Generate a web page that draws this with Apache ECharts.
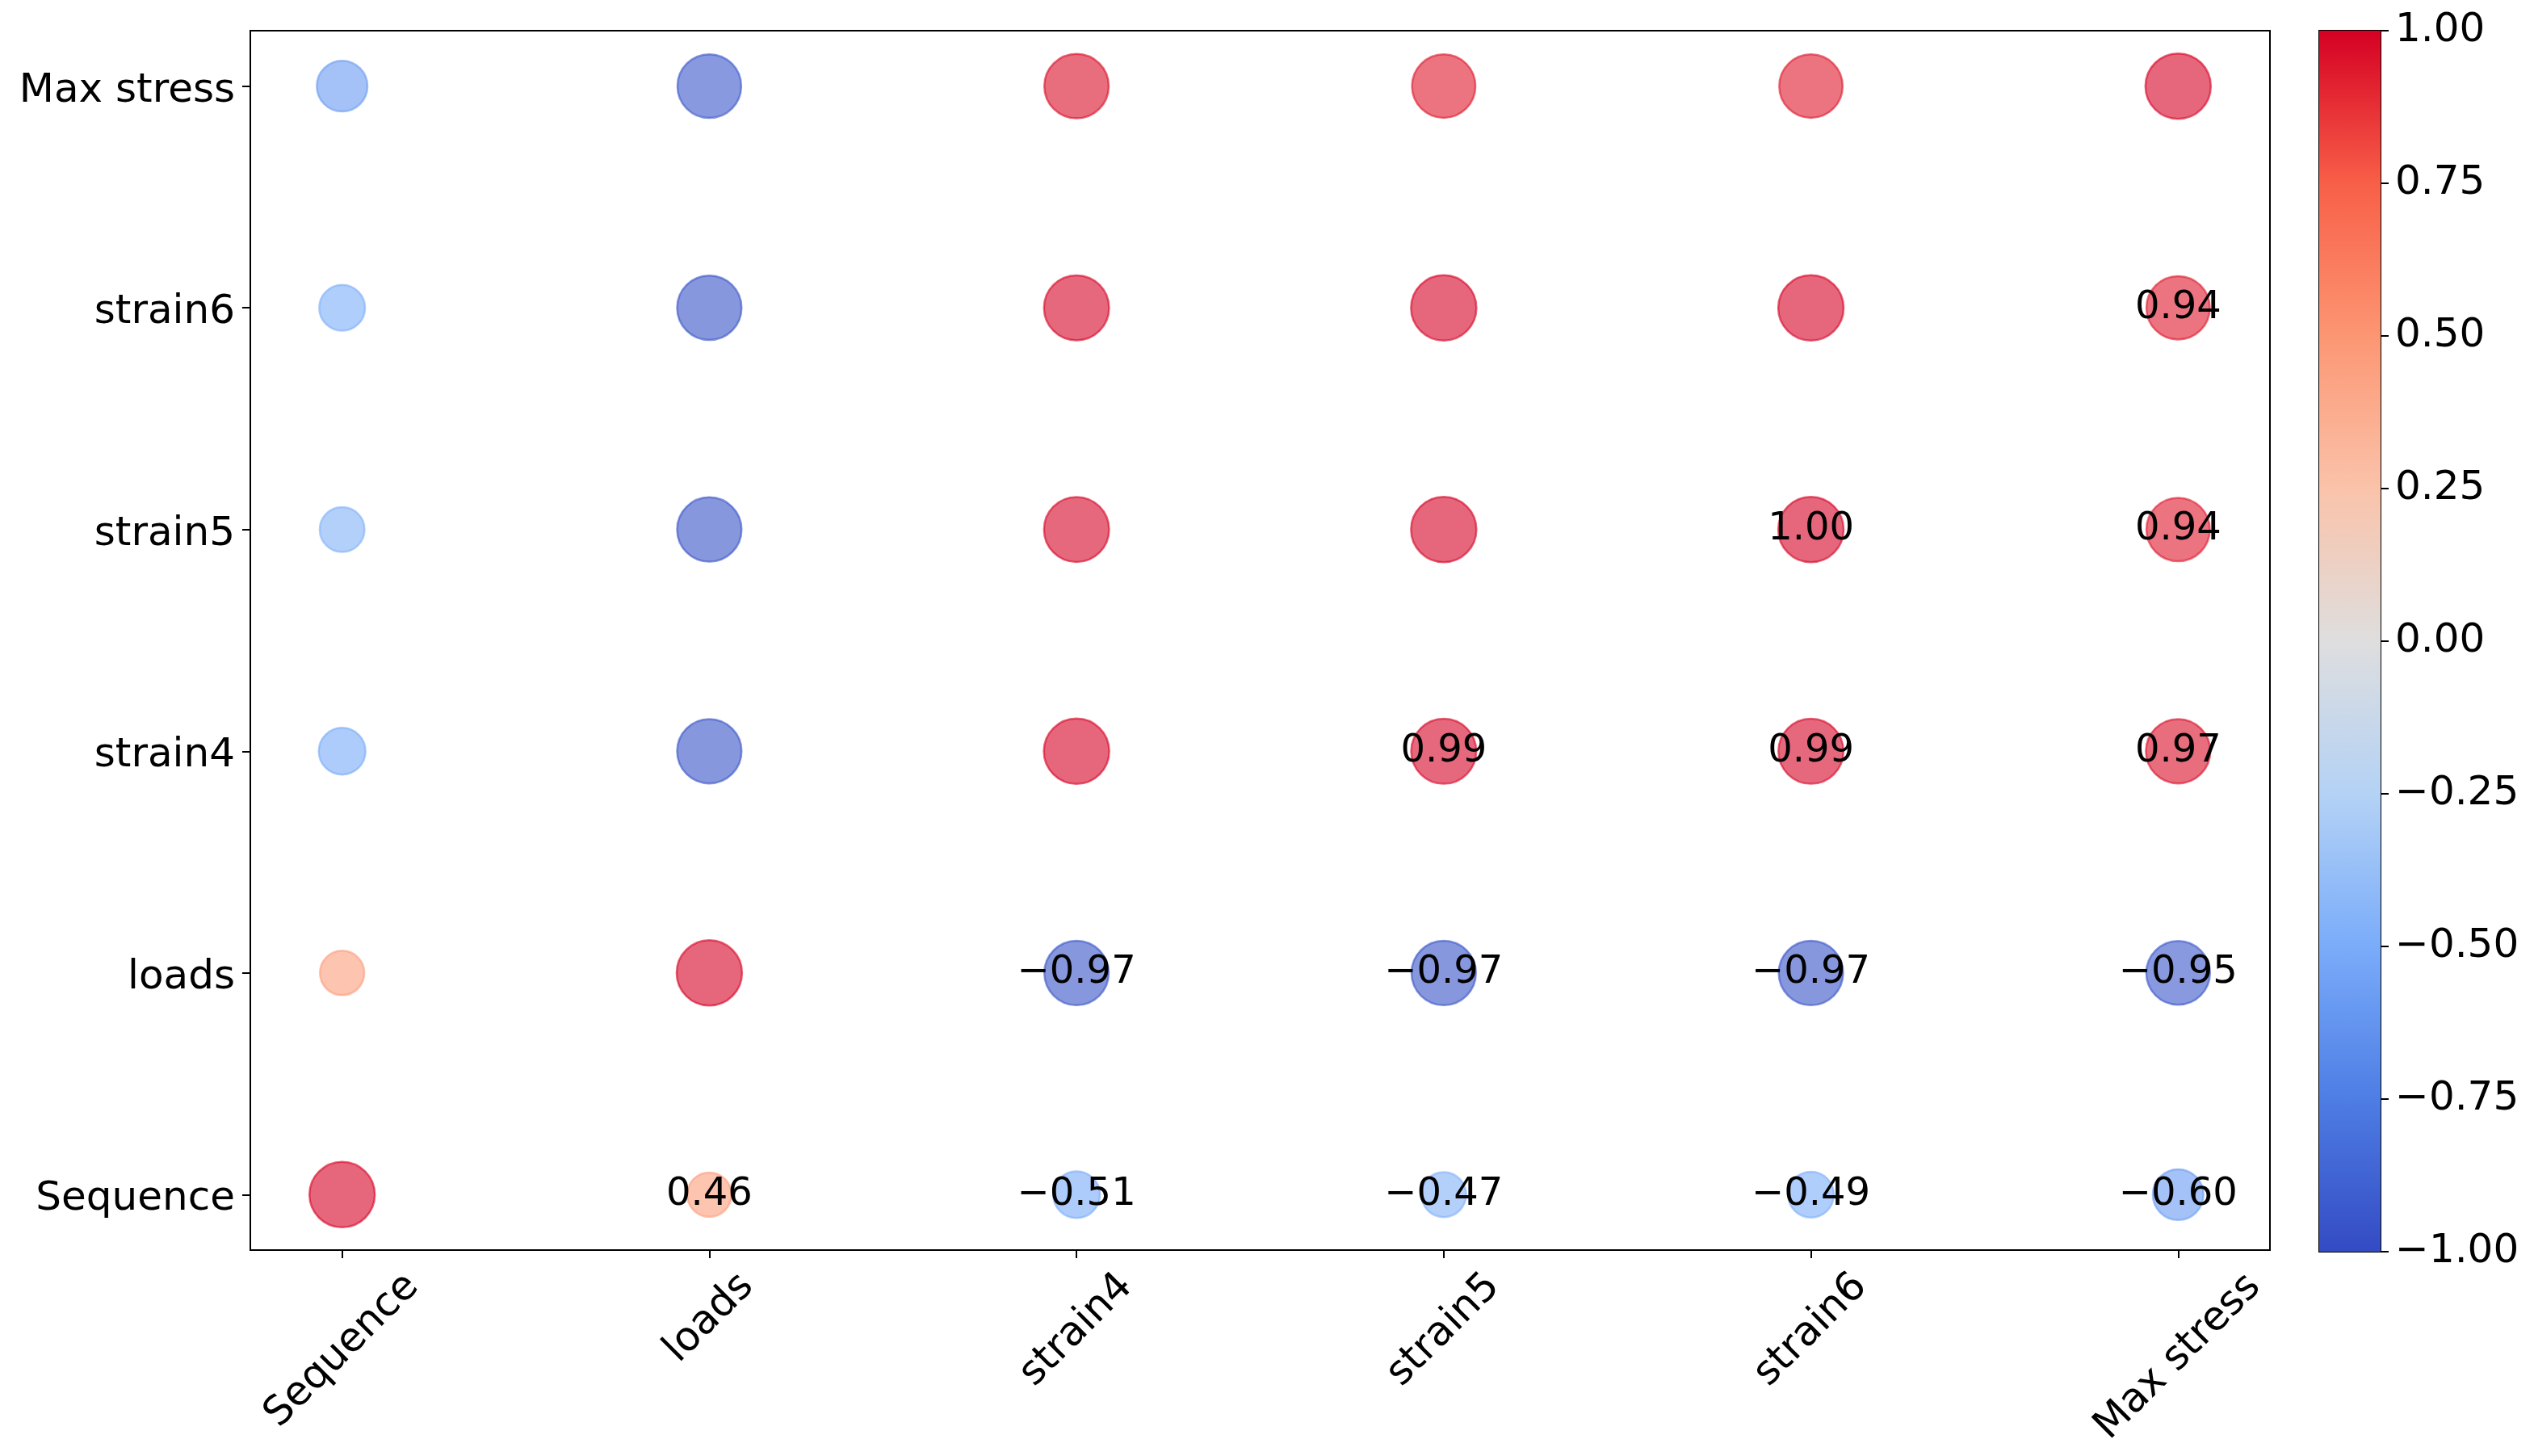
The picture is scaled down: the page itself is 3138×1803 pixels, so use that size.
<!DOCTYPE html>
<html><head><meta charset="utf-8">
<script src="https://cdn.jsdelivr.net/npm/echarts@6/dist/echarts.min.js"></script>
<style>html,body{margin:0;padding:0;background:#fff}#c{width:3138px;height:1803px}</style>
</head><body><div id="c"></div>
<script>
// ---------- data ----------
const variables = ['Sequence', 'loads', 'strain4', 'strain5', 'strain6', 'Max stress'];
const corrSequence  = [1.00, 0.46, -0.51, -0.47, -0.49, -0.60];
const corrLoads     = [0.46, 1.00, -0.97, -0.97, -0.97, -0.95];
const corrStrain4   = [-0.51, -0.97, 1.00, 0.99, 0.99, 0.97];
const corrStrain5   = [-0.47, -0.97, 0.99, 1.00, 1.00, 0.94];
const corrStrain6   = [-0.49, -0.97, 0.99, 1.00, 1.00, 0.94];
const corrMaxStress = [-0.60, -0.95, 0.97, 0.94, 0.94, 1.00];
const colorbarTicks = [-1, -0.75, -0.5, -0.25, 0, 0.25, 0.5, 0.75, 1];

// ---------- style ----------
const FONT = 'DejaVu Sans';
const palettePos = [-1, -0.75, -0.5, -0.25, 0, 0.25, 0.5, 0.75, 1];
const paletteRGB = [[52,75,195],[78,125,228],[122,172,250],[180,210,245],[222,222,222],[250,195,170],[252,150,115],[248,95,72],[213,0,35]];
function cmap(v, alpha){
  v = Math.max(-1, Math.min(1, v));
  let rgb = paletteRGB[paletteRGB.length-1];
  for (let i = 0; i < palettePos.length - 1; i++){
    if (v <= palettePos[i+1]){
      const t = (v - palettePos[i]) / (palettePos[i+1] - palettePos[i]);
      const a = paletteRGB[i], b = paletteRGB[i+1];
      rgb = a.map((c, k) => Math.round(c + (b[k]-c)*t));
      break;
    }
  }
  return 'rgba(' + rgb.join(',') + ',' + alpha + ')';
}
const fmt = v => v.toFixed(2).replace('-', '\u2212');

const rows = [corrSequence, corrLoads, corrStrain4, corrStrain5, corrStrain6, corrMaxStress];
const points = [];
rows.forEach((row, yi) => {
  row.forEach((v, xi) => {
    const col = cmap(v, 0.6);
    points.push({
      value: [xi, yi, v],
      itemStyle: { color: col, borderColor: col, opacity: 1 },
      label: { show: xi > yi }
    });
  });
});

// x label padding so rotated labels are centred under their ticks (matplotlib style)
const cv = document.createElement('canvas').getContext('2d');
cv.font = '50px "' + FONT + '"';
const rich = {};
variables.forEach((name, i) => {
  const w = cv.measureText(name).width;
  const p = Math.round(0.5 * (w + 50));
  rich['x' + i] = { fontSize: 50, fontFamily: FONT, color: '#000', padding: [p, p, 0, 0] };
});

const gradStops = palettePos.map((p, i) => ({ offset: (1 - p) / 2, color: 'rgb(' + paletteRGB[i].join(',') + ')' })).reverse();

const tickVals = variables.map((_, i) => i);
const chart = echarts.init(document.getElementById('c'), null, { renderer: 'canvas' });
chart.setOption({
  backgroundColor: '#fff',
  animation: false,
  textStyle: { fontFamily: FONT },
  grid: [
    { left: 310, top: 38, width: 2501, height: 1510, show: true, borderColor: '#000', borderWidth: 2, backgroundColor: 'transparent', outerBoundsMode: 'none' },
    { left: 2872, top: 38, width: 76, height: 1512, show: true, borderColor: '#000', borderWidth: 2, backgroundColor: 'transparent', outerBoundsMode: 'none' }
  ],
  xAxis: [
    { type: 'value', gridIndex: 0, min: -0.25, max: 5.25,
      axisLine: { show: true, onZero: false, lineStyle: { color: '#000', width: 2 } },
      axisTick: { show: true, customValues: tickVals, length: 10, lineStyle: { color: '#000', width: 2 } },
      axisLabel: { customValues: tickVals, rotate: 45, align: 'center', verticalAlign: 'middle', margin: 20,
        formatter: v => '{x' + v + '|' + variables[v] + '}', rich: rich },
      splitLine: { show: false } },
    { type: 'category', gridIndex: 1, data: ['cb'], show: false, boundaryGap: true }
  ],
  yAxis: [
    { type: 'value', gridIndex: 0, min: -0.25, max: 5.25,
      axisLine: { show: true, onZero: false, lineStyle: { color: '#000', width: 2 } },
      axisTick: { show: true, customValues: tickVals, length: 10, lineStyle: { color: '#000', width: 2 } },
      axisLabel: { customValues: tickVals, margin: 19, verticalAlign: 'middle',
        formatter: v => '{y|' + variables[v] + '}',
        rich: { y: { fontSize: 50, color: '#000', fontFamily: FONT, padding: [12, 0, 0, 0] } } },
      splitLine: { show: false } },
    { type: 'value', gridIndex: 1, min: 0, max: 1, show: false },
    { type: 'value', gridIndex: 1, min: -1, max: 1, interval: 0.25, position: 'right',
      axisLine: { show: false, onZero: false },
      axisTick: { show: true, length: 10, lineStyle: { color: '#000', width: 2 } },
      axisLabel: { fontSize: 50, color: '#000', fontFamily: FONT, margin: 18, formatter: v => fmt(v) },
      splitLine: { show: false } }
  ],
  series: [
    { type: 'scatter', xAxisIndex: 0, yAxisIndex: 0, data: points,
      symbolSize: val => 81 * Math.sqrt(Math.abs(val[2])),
      itemStyle: { borderWidth: 2.5, opacity: 1 },
      label: { position: 'inside', formatter: p => fmt(p.value[2]), fontSize: 48, color: '#000', fontFamily: FONT },
      emphasis: { disabled: true }, z: 3 },
    { type: 'bar', xAxisIndex: 1, yAxisIndex: 1, data: [1], barWidth: '100%',
      itemStyle: { color: new echarts.graphic.LinearGradient(0, 0, 0, 1, gradStops) },
      emphasis: { disabled: true }, silent: true }
  ]
});
</script></body></html>
